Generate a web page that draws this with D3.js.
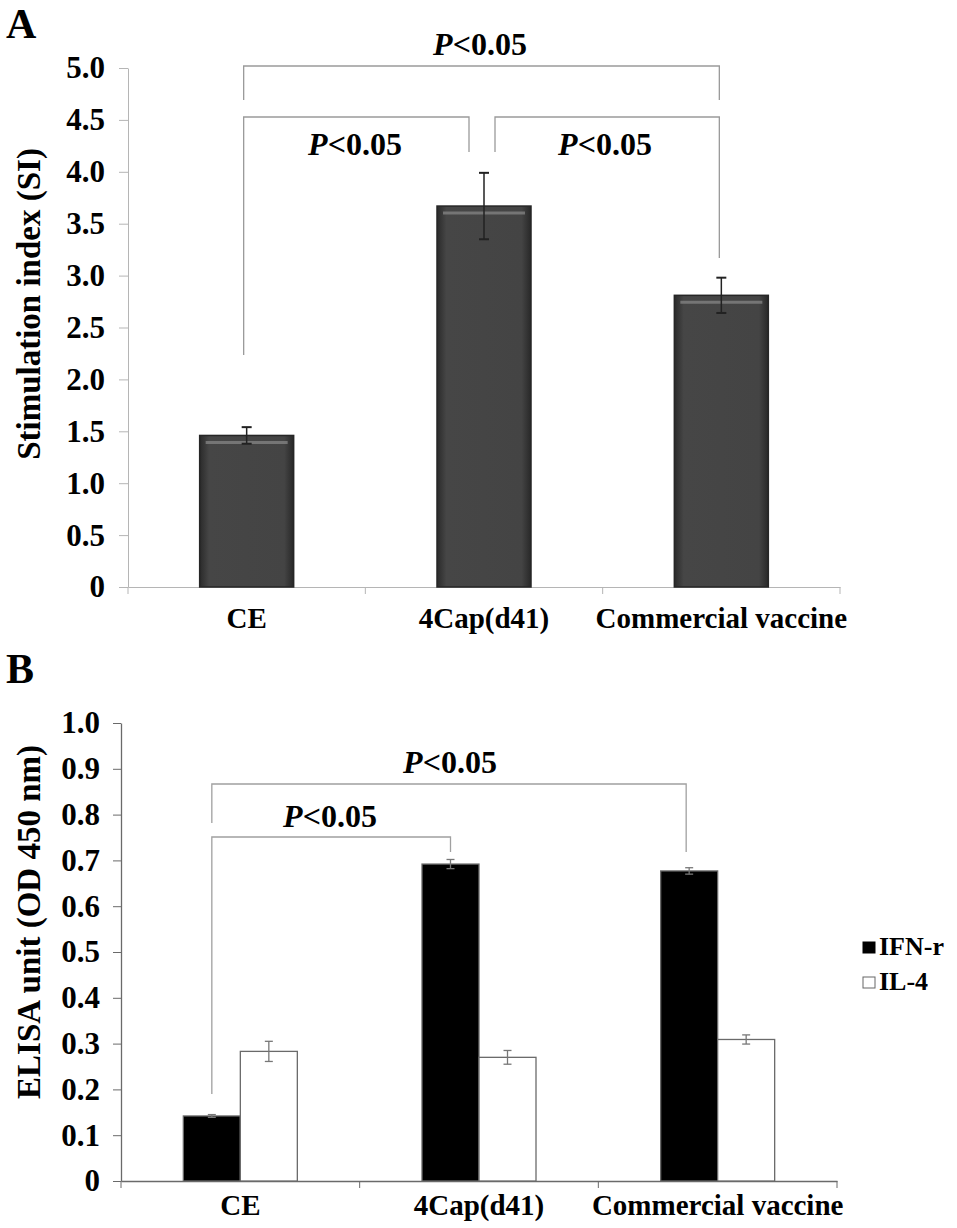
<!DOCTYPE html>
<html><head><meta charset="utf-8">
<script src="https://cdn.jsdelivr.net/npm/d3@7"></script>
<style>body{margin:0;background:#fff}svg{display:block}text{font-family:"Liberation Serif","Times New Roman",serif;font-weight:bold}</style>
</head><body>
<svg id="c" width="957" height="1228"></svg>
<script>
// Panel A data
const catsA = ["CE", "4Cap(d41)", "Commercial vaccine"];
const siValues = [1.46, 3.67, 2.81];
const siErrors = [0.08, 0.32, 0.17];
const ticksA = [0, 0.5, 1.0, 1.5, 2.0, 2.5, 3.0, 3.5, 4.0, 4.5, 5.0];
// Panel B data
const catsB = ["CE", "4Cap(d41)", "Commercial vaccine"];
const seriesB = ["IFN-r", "IL-4"];
const ifnValues = [0.142, 0.692, 0.677];
const ifnErrors = [0.003, 0.010, 0.007];
const il4Values = [0.283, 0.270, 0.309];
const il4Errors = [0.022, 0.015, 0.010];
const ticksB = [0, 0.1, 0.2, 0.3, 0.4, 0.5, 0.6, 0.7, 0.8, 0.9, 1.0];

const svg = d3.select("#c");
const fmt = d => d === 0 ? "0" : d3.format(".1f")(d);
const FONT = "Liberation Serif";

// ---------- Panel A ----------
const xA = d3.scaleBand().domain(catsA).range([128, 840]);
const yA = d3.scaleLinear().domain([0, 5]).range([587, 68]);
const gA = svg.append("g");

const defs = svg.append("defs");
const grad = defs.append("linearGradient").attr("id", "barA").attr("x1", "0").attr("x2", "1").attr("y1", "0").attr("y2", "0");
grad.append("stop").attr("offset", "0").attr("stop-color", "#2a2a2a");
grad.append("stop").attr("offset", "0.1").attr("stop-color", "#464646");
grad.append("stop").attr("offset", "0.9").attr("stop-color", "#444444");
grad.append("stop").attr("offset", "1").attr("stop-color", "#282828");

const axA = gA.append("g").attr("transform", "translate(128,0)")
  .call(d3.axisLeft(yA).tickValues(ticksA).tickFormat(fmt).tickSize(9).tickSizeOuter(0));
axA.select(".domain").attr("stroke", "#b5b5b5");
axA.selectAll(".tick line").attr("stroke", "#b5b5b5");
axA.selectAll(".tick text").attr("font-size", 31).attr("fill", "#000").attr("x", -23)
  .style("font-family", FONT).style("font-weight", "bold");

const bxA = gA.append("g").attr("transform", "translate(0,587)")
  .call(d3.axisBottom(xA).tickSize(0).tickSizeOuter(0));
bxA.select(".domain").attr("stroke", "#b5b5b5");
bxA.selectAll(".tick text").attr("font-size", 29).attr("fill", "#000").attr("y", 41).attr("dy", 0)
  .style("font-family", FONT).style("font-weight", "bold");
const bndA = [128, xA(catsA[1]), xA(catsA[2]), 840];
gA.selectAll(".bt").data(bndA).join("line")
  .attr("x1", d => d).attr("x2", d => d).attr("y1", 587).attr("y2", 594).attr("stroke", "#b5b5b5");

const bwA = 94;
gA.selectAll(".barA").data(siValues).join("rect")
  .attr("x", (d, i) => xA(catsA[i]) + xA.bandwidth() / 2 - bwA / 2)
  .attr("y", d => yA(d)).attr("width", bwA).attr("height", d => yA(0) - yA(d))
  .attr("fill", "url(#barA)").attr("stroke", "#262626").attr("stroke-width", 1.5);
gA.selectAll(".hlA").data(siValues).join("line")
  .attr("x1", (d, i) => xA(catsA[i]) + xA.bandwidth() / 2 - bwA / 2 + 6)
  .attr("x2", (d, i) => xA(catsA[i]) + xA.bandwidth() / 2 + bwA / 2 - 6)
  .attr("y1", d => yA(d) + 7).attr("y2", d => yA(d) + 7)
  .attr("stroke", "#8a8a8a").attr("stroke-width", 3).attr("opacity", 0.7);
siValues.forEach((v, i) => {
  const cx = xA(catsA[i]) + xA.bandwidth() / 2;
  const t = yA(v + siErrors[i]), b = yA(v - siErrors[i]);
  gA.append("line").attr("x1", cx).attr("x2", cx).attr("y1", t).attr("y2", b).attr("stroke", "#222").attr("stroke-width", 1.5);
  [t, b].forEach(y => gA.append("line").attr("x1", cx - 5).attr("x2", cx + 5).attr("y1", y).attr("y2", y).attr("stroke", "#222").attr("stroke-width", 2));
});

function bracket(g, x1, x2, yTop, yL, yR, tx, ty, color) {
  g.append("path").attr("d", `M${x1},${yL}V${yTop}H${x2}V${yR}`).attr("fill", "none").attr("stroke", color).attr("stroke-width", 1.3);
  const t = g.append("text").attr("x", tx).attr("y", ty).attr("text-anchor", "middle").attr("font-size", 32);
  t.append("tspan").attr("font-style", "italic").text("P");
  t.append("tspan").text("<0.05");
}
const cA = i => xA(catsA[i]) + xA.bandwidth() / 2;
bracket(gA, cA(0) - 3, cA(2) - 2, 66, 100, 100, 480, 55, "#9a9a9a");
bracket(gA, cA(0) - 3, cA(1) - 15, 117, 355, 152, 355, 155, "#9a9a9a");
bracket(gA, cA(1) + 11, cA(2) - 2, 117, 152, 258, 605, 155, "#9a9a9a");

gA.append("text").attr("transform", "translate(40,304) rotate(-90)").attr("text-anchor", "middle").attr("font-size", 33).text("Stimulation index (SI)");
svg.append("text").attr("x", 6).attr("y", 38).attr("font-size", 42).text("A");

// ---------- Panel B ----------
const xB = d3.scaleBand().domain(catsB).range([121, 837]);
const yB = d3.scaleLinear().domain([0, 1]).range([1181, 723]);
const xSub = d3.scaleBand().domain(seriesB).range([0, 114]);
const gB = svg.append("g");

const axB = gB.append("g").attr("transform", "translate(121,0)")
  .call(d3.axisLeft(yB).tickValues(ticksB).tickFormat(fmt).tickSize(8).tickSizeOuter(0));
axB.select(".domain").attr("stroke", "#6a6a6a").attr("stroke-width", 1.3);
axB.selectAll(".tick line").attr("stroke", "#6a6a6a");
axB.selectAll(".tick text").attr("font-size", 31).attr("fill", "#000").attr("x", -21)
  .style("font-family", FONT).style("font-weight", "bold");

const bxB = gB.append("g").attr("transform", "translate(0,1181)")
  .call(d3.axisBottom(xB).tickSize(0).tickSizeOuter(0));
bxB.select(".domain").attr("stroke", "#6a6a6a").attr("stroke-width", 1.3);
bxB.selectAll(".tick text").attr("font-size", 29).attr("fill", "#000").attr("y", 34).attr("dy", 0)
  .style("font-family", FONT).style("font-weight", "bold");
const bndB = [121, xB(catsB[1]), xB(catsB[2]), 837];
gB.selectAll(".bt").data(bndB).join("line")
  .attr("x1", d => d).attr("x2", d => d).attr("y1", 1181).attr("y2", 1188).attr("stroke", "#6a6a6a");

const groupOff = (xB.bandwidth() - 114) / 2;
const seriesData = [
  { name: "IFN-r", vals: ifnValues, errs: ifnErrors, fill: "#000" },
  { name: "IL-4", vals: il4Values, errs: il4Errors, fill: "#fff" }
];
seriesData.forEach(s => {
  s.vals.forEach((v, i) => {
    const x0 = xB(catsB[i]) + groupOff + xSub(s.name);
    gB.append("rect").attr("x", x0).attr("y", yB(v)).attr("width", xSub.bandwidth()).attr("height", yB(0) - yB(v))
      .attr("fill", s.fill).attr("stroke", "#6a6a6a").attr("stroke-width", 1.3);
    const cx = x0 + xSub.bandwidth() / 2;
    const t = yB(v + s.errs[i]), b = yB(v - s.errs[i]);
    gB.append("line").attr("x1", cx).attr("x2", cx).attr("y1", t).attr("y2", b).attr("stroke", "#777").attr("stroke-width", 1.3);
    [t, b].forEach(y => gB.append("line").attr("x1", cx - 4).attr("x2", cx + 4).attr("y1", y).attr("y2", y).attr("stroke", "#777").attr("stroke-width", 1.3));
  });
});

const cB = i => xB(catsB[i]) + groupOff + xSub("IFN-r") + xSub.bandwidth() / 2;
bracket(gB, cB(0), cB(2) - 3, 784, 823, 852, 450, 773, "#a0a0a0");
bracket(gB, cB(0), cB(1), 837, 1094, 852, 330, 827, "#a0a0a0");

gB.append("text").attr("transform", "translate(40,922) rotate(-90)").attr("text-anchor", "middle").attr("font-size", 33).text("ELISA unit (OD 450 nm)");
svg.append("text").attr("x", 6).attr("y", 683).attr("font-size", 42).text("B");

const lg = gB.append("g");
seriesData.forEach((s, i) => {
  const y = 942 + i * 35;
  lg.append("rect").attr("x", 863).attr("y", y).attr("width", 12).attr("height", 11)
    .attr("fill", s.fill).attr("stroke", s.fill === "#000" ? "#000" : "#666").attr("stroke-width", 1);
  lg.append("text").attr("x", 879).attr("y", y + 13).attr("font-size", 26).text(s.name);
});
</script>
</body></html>
